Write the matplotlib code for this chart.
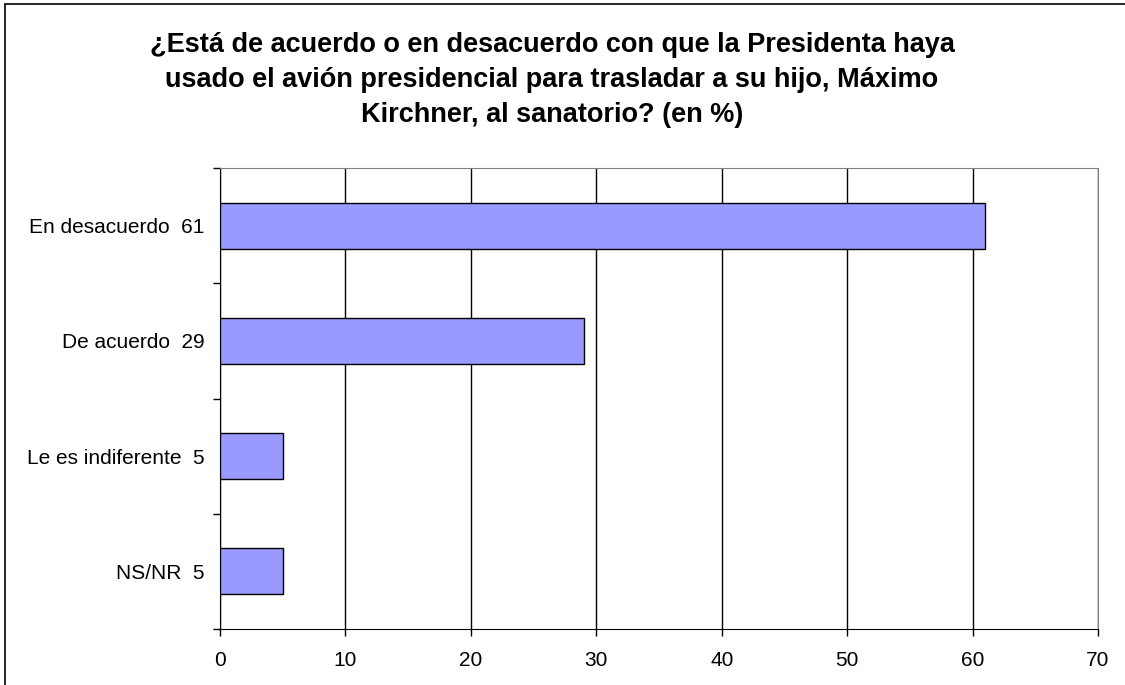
import matplotlib.pyplot as plt
from matplotlib.patches import Rectangle

plt.rcParams['font.family'] = ['Liberation Sans', 'DejaVu Sans']

# Survey answers (top to bottom) and their percentages
categories = ['En desacuerdo', 'De acuerdo', 'Le es indiferente', 'NS/NR']
values = [61, 29, 5, 5]
x_ticks = [0, 10, 20, 30, 40, 50, 60, 70]
title = ('¿Está de acuerdo o en desacuerdo con que la Presidenta haya\n'
         'usado el avión presidencial para trasladar a su hijo, Máximo\n'
         'Kirchner, al sanatorio? (en %)')

fig = plt.figure(figsize=(11.25, 6.85), dpi=100)
ax = fig.add_axes([220 / 1125, 1 - 629 / 685, (1098 - 220) / 1125, (629 - 168) / 685])

# outer frame of the chart area
fig.patches.append(Rectangle((5 / 1125, -0.5), 2, 1.5 - 4 / 685, transform=fig.transFigure,
                             fill=False, edgecolor='black', linewidth=1.2, clip_on=False))

ypos = list(range(len(categories)))[::-1]
labels = [f'{c}  {v}' for c, v in zip(categories, values)]

ax.barh(ypos, values, height=0.4, color='#9999FF', edgecolor='black', linewidth=1, zorder=3)

ax.set_xlim(0, 70)
ax.set_ylim(-0.5, len(categories) - 0.5)
ax.set_xticks(x_ticks)
ax.set_xticklabels([str(t) for t in x_ticks], fontsize=15)
ax.set_yticks(ypos)
ax.set_yticklabels(labels, fontsize=15)
ax.set_yticks([y - 0.5 for y in range(len(categories) + 1)], minor=True)

ax.tick_params(axis='y', which='major', length=0, pad=11)
ax.tick_params(axis='y', which='minor', length=5, width=1, direction='out', color='black')
ax.tick_params(axis='x', length=5, width=1, direction='out', pad=11)

ax.xaxis.grid(True, color='black', linewidth=1, zorder=0)
ax.set_axisbelow(True)

ax.spines['left'].set_color('black')
ax.spines['bottom'].set_color('black')
ax.spines['top'].set_color('#808080')
ax.spines['right'].set_color('#808080')

fig.text(552 / 1125, 1 - 80 / 685, title, ha='center', va='center',
         fontsize=19.5, fontweight='bold', linespacing=1.45)

fig.savefig('out.png', dpi=100)
